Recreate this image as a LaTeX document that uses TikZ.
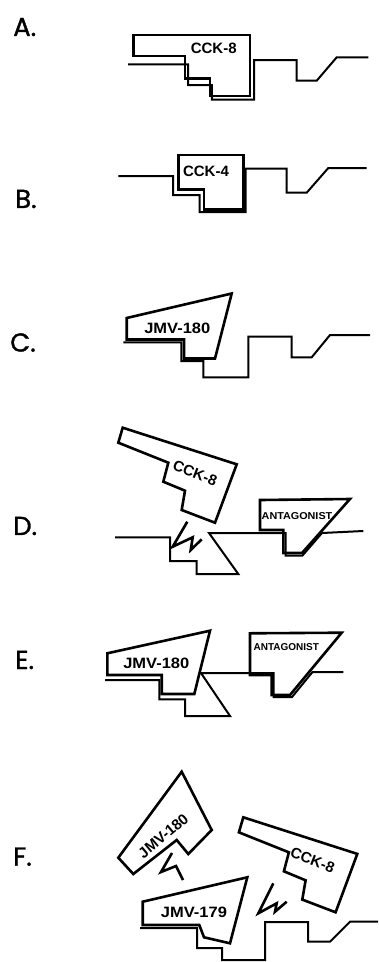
\documentclass[tikz,border=0pt]{standalone}
\usepackage{fontspec}
\setmainfont{Liberation Sans}
\newfontfamily\lblfont[FakeBold=1.2]{Poppins}
\begin{document}
\begin{tikzpicture}[x=1pt,y=-1pt,
  lig/.style={draw=black,line width=2.6pt,line join=miter},
  rec/.style={draw=black,line width=2pt,line join=miter},
  boltline/.style={draw=black,line width=2.6pt,line join=miter,line cap=butt},
  tag/.style={font=\bfseries\fontsize{15}{15}\selectfont,inner sep=0pt},
  smalltag/.style={font=\bfseries\fontsize{10}{10}\selectfont,inner sep=0pt},
  lbl/.style={font=\lblfont\fontsize{26}{26}\selectfont,anchor=west,inner sep=0pt}]
\fill[white] (0,0) rectangle (378,962);
\useasboundingbox (0,0) rectangle (378,962);

% ---------- A ----------
\node[lbl] (la) at (13,27) {A.};
\draw[lig] (133.3,35) -- (250,35) -- (250,96) -- (210,96) -- (210,78.3) -- (185,78.3) -- (185,56) -- (133.3,56) -- cycle;
\draw[rec] (128,64.3) -- (188,64.3) -- (188,85) -- (211.8,85) -- (211.8,99.5) -- (254,99.5) -- (254,60) -- (296.7,60) -- (296.7,80.7) -- (316.7,80.7) -- (336.7,57.3) -- (368.3,57.3);
\node[tag] (ta) at (213.7,48) {CCK-8};

% ---------- B ----------
\node[lbl] (lb) at (15,199) {B.};
\draw[lig] (178.3,155) -- (243.3,155) -- (243.3,209.5) -- (204,209.5) -- (204,189.3) -- (178.3,189.3) -- cycle;
\draw[rec] (118.3,176) -- (173,176) -- (173,195) -- (199.5,195) -- (199.5,212) -- (245.5,212) -- (245.5,168.5) -- (286.7,168.5) -- (286.7,192.7) -- (306.7,192.7) -- (328.3,168) -- (366.7,168);
\node[tag] (tb) at (206,171) {CCK-4};

% ---------- C ----------
\node[lbl] (lc) at (10,342.5) {C.};
\draw[lig] (126.7,318) -- (231.7,293.5) -- (215,358.5) -- (184,358.5) -- (184,339.5) -- (126.7,339.5) -- cycle;
\draw[rec] (123.3,342.3) -- (181.3,342.3) -- (181.3,361) -- (203.3,361) -- (203.3,377.3) -- (248.3,377.3) -- (248.3,336.7) -- (291.7,336.7) -- (291.7,357.3) -- (311.7,357.3) -- (330,335) -- (370,335);
\node[tag] (tc) at (177.3,328.7) {\scalebox{1.1}[1]{JMV-180}};

% ---------- D ----------
\node[lbl] (ld) at (13,526) {D.};
\draw[lig] (122.7,427.7) -- (118.3,442.7) -- (168.3,462.7) -- (163.3,481.7) -- (185,490.7) -- (181.7,510) -- (215,522.7) -- (236.7,464.3) -- cycle;
\node[tag,rotate=-21] (td) at (195,473) {CCK-8};
\draw[boltline] (187.3,521.7) -- (172.7,546.7) -- (192.7,537.3) -- (190.7,550) -- (201.7,539.3);
\draw[rec] (115,537.3) -- (170,537.3) -- (170,561) -- (196.7,561) -- (196.7,574) -- (238.3,574) -- (209,533) -- (285.5,533) -- (285.5,555.5) -- (302.5,555.5) -- (322,533) -- (363.3,531);
\draw[lig] (260,500) -- (350,499) -- (302,553) -- (283.3,553) -- (283.3,530) -- (260,530) -- cycle;
\node[smalltag] (ad) at (297,515.8) {\scalebox{1.08}[1]{ANTAGONIST}};

% ---------- E ----------
\node[lbl] (le) at (15,660) {E.};
\draw[lig] (107.3,653.3) -- (210,630.7) -- (194.3,694) -- (161.7,694) -- (161.7,675) -- (107.3,675) -- cycle;
\node[tag] (te) at (156.3,663.3) {\scalebox{1.1}[1]{JMV-180}};
\draw[rec] (105,680) -- (159.3,680) -- (159.3,699.3) -- (185,699.3) -- (185,716) -- (230,716) -- (201,673) -- (273.7,673) -- (273.7,697) -- (292,697) -- (312.5,672) -- (343.3,672);
\draw[lig] (250,633.3) -- (341.7,632.7) -- (290,695) -- (271.7,695) -- (271.7,675) -- (250,675) -- cycle;
\node[smalltag] (ae) at (286.3,647) {ANTAGONIST};

% ---------- F ----------
\node[lbl] (lf) at (13,856.7) {F.};
\draw[lig] (118.3,857.7) -- (181.7,771.7) -- (211.7,830) -- (188.3,854) -- (176.7,840) -- (133.3,874) -- cycle;
\node[tag,rotate=40] (tf1) at (163.3,836) {JMV-180};
\draw[boltline] (172,853) -- (161,872) -- (176,866) -- (183,880);
\begin{scope}[shift={(120.6,389.6)}]
\draw[lig] (122.7,427.7) -- (118.3,442.7) -- (168.3,462.7) -- (163.3,481.7) -- (185,490.7) -- (181.7,510) -- (215,522.7) -- (236.7,464.3) -- cycle;
\end{scope}
\node[tag,rotate=-21] (tf2) at (312.5,860) {CCK-8};
\draw[boltline] (273.3,883.3) -- (258.3,913.3) -- (276.7,903.3) -- (275,911.7) -- (286.7,901.7);
\draw[lig] (142.7,901.7) -- (247.3,877.3) -- (230,943.3) -- (204,937.3) -- (199.3,925) -- (142.7,925) -- cycle;
\node[tag] (tf3) at (194,912.5) {\scalebox{1.1}[1]{JMV-179}};
\draw[rec] (140,928) -- (197,928) -- (197,948) -- (222,948) -- (222,960) -- (265,960) -- (265,922) -- (308,922) -- (308,941.7) -- (330,941.7) -- (350,921.7) -- (378,921.7);
\end{tikzpicture}
\end{document}
